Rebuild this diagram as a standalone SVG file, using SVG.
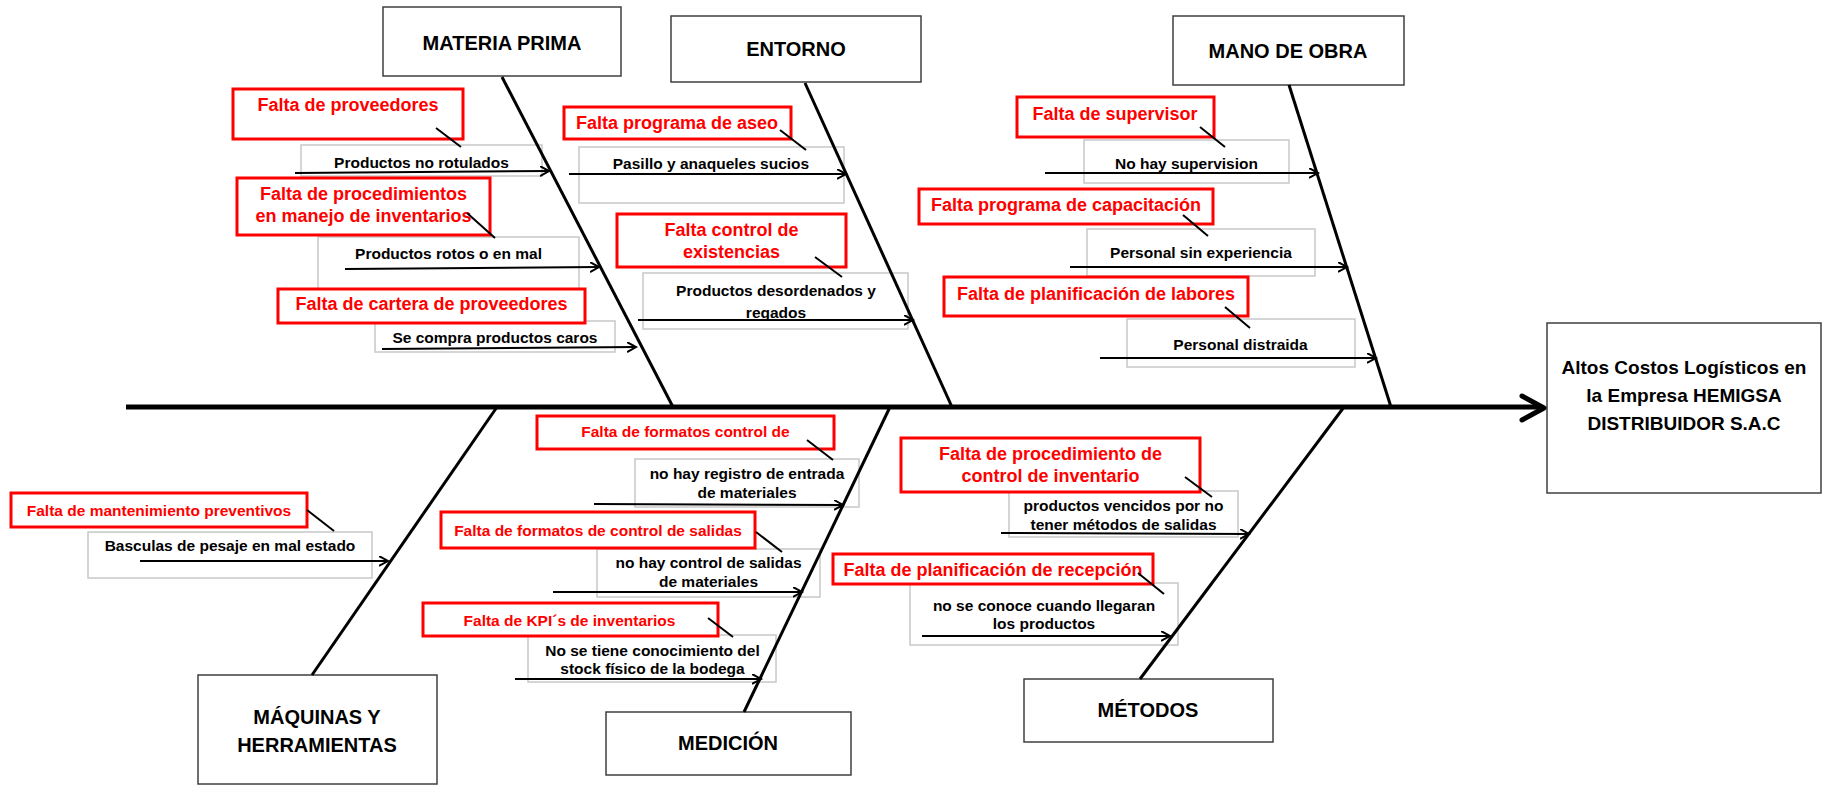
<svg xmlns="http://www.w3.org/2000/svg" width="1828" height="785" viewBox="0 0 1828 785">
<style>
text{font-family:"Liberation Sans",Arial,sans-serif;font-weight:bold;text-anchor:middle}
.cat{fill:#fff;stroke:#3f3f3f;stroke-width:1.5}
.cat-t{font-size:20px;fill:#000}
.eff-t{font-size:19px;fill:#000}
.sub{fill:#fff;stroke:#c8c8c8;stroke-width:1.5}
.sub-t{font-size:15.5px;fill:#000}
.red{fill:#fff;stroke:#ff0000;stroke-width:3}
.red-t{font-size:18px;fill:#ff0000}
.red-s{font-size:15.5px;fill:#ff0000}
.bone{stroke:#000;stroke-width:3;fill:none}
.arr{stroke:#000;stroke-width:2;fill:none;marker-end:url(#ah)}
.lnk{stroke:#000;stroke-width:2;fill:none}
</style>
<defs>
<marker id="ah" markerUnits="userSpaceOnUse" markerWidth="12" markerHeight="12" refX="9" refY="5" orient="auto">
<path d="M0,0 L9,5 L0,10" fill="none" stroke="#000" stroke-width="2"/>
</marker>
</defs>
<rect width="1828" height="785" fill="#fff"/>

<!-- Effect -->
<g id="effect">
<rect class="cat" x="1547" y="323" width="274" height="170"/>
<text class="eff-t" x="1684" y="374">Altos Costos Logísticos en</text>
<text class="eff-t" x="1684" y="402">la Empresa HEMIGSA</text>
<text class="eff-t" x="1684" y="430">DISTRIBUIDOR S.A.C</text>
</g>

<!-- Categories -->
<g id="cat-materia-prima">
<rect class="cat" x="383" y="7" width="238" height="69"/>
<text class="cat-t" x="502" y="50">MATERIA PRIMA</text>
</g>
<g id="cat-entorno">
<rect class="cat" x="671" y="16" width="250" height="66"/>
<text class="cat-t" x="796" y="56">ENTORNO</text>
</g>
<g id="cat-mano-de-obra">
<rect class="cat" x="1173" y="16" width="231" height="69"/>
<text class="cat-t" x="1288" y="58">MANO DE OBRA</text>
</g>
<g id="cat-maquinas">
<rect class="cat" x="198" y="675" width="239" height="109"/>
<text class="cat-t" x="317" y="724">MÁQUINAS Y</text>
<text class="cat-t" x="317" y="752">HERRAMIENTAS</text>
</g>
<g id="cat-medicion">
<rect class="cat" x="606" y="712" width="245" height="63"/>
<text class="cat-t" x="728" y="750">MEDICIÓN</text>
</g>
<g id="cat-metodos">
<rect class="cat" x="1024" y="679" width="249" height="63"/>
<text class="cat-t" x="1148" y="717">MÉTODOS</text>
</g>

<!-- MATERIA PRIMA sub-causes -->
<g id="mp-1">
<rect class="sub" x="301" y="145" width="241" height="31"/>
<text class="sub-t" x="421.5" y="167.5">Productos no rotulados</text>
<rect class="red" x="233" y="89" width="230" height="50"/>
<text class="red-t" x="348" y="110.5">Falta de proveedores</text>
</g>
<g id="mp-2">
<rect class="sub" x="318" y="237" width="261" height="53"/>
<text class="sub-t" x="448.5" y="258.5">Productos rotos o en mal</text>
<rect class="red" x="237" y="178" width="253" height="57"/>
<text class="red-t" x="363.5" y="199.5">Falta de procedimientos</text>
<text class="red-t" x="363.5" y="221.5">en manejo de inventarios</text>
</g>
<g id="mp-3">
<rect class="sub" x="375" y="321" width="240" height="31"/>
<text class="sub-t" x="495" y="342.5">Se compra productos caros</text>
<rect class="red" x="278" y="289" width="307" height="34"/>
<text class="red-t" x="431.5" y="309.5">Falta de cartera de proveedores</text>
</g>

<!-- ENTORNO sub-causes -->
<g id="en-1">
<rect class="sub" x="579" y="147" width="265" height="56"/>
<text class="sub-t" x="711" y="168.5">Pasillo y anaqueles sucios</text>
<rect class="red" x="564" y="107" width="227" height="32"/>
<text class="red-t" x="677" y="128.5">Falta programa de aseo</text>
</g>
<g id="en-2">
<rect class="sub" x="643" y="273" width="265" height="56"/>
<text class="sub-t" x="776" y="295.5">Productos desordenados y</text>
<text class="sub-t" x="776" y="317.5">regados</text>
<rect class="red" x="617" y="214" width="229" height="53"/>
<text class="red-t" x="731.5" y="235.5">Falta control de</text>
<text class="red-t" x="731.5" y="257.5">existencias</text>
</g>

<!-- MANO DE OBRA sub-causes -->
<g id="mo-1">
<rect class="sub" x="1084" y="140" width="205" height="43"/>
<text class="sub-t" x="1186.5" y="168.5">No hay supervision</text>
<rect class="red" x="1017" y="97" width="197" height="40"/>
<text class="red-t" x="1115" y="119.5">Falta de supervisor</text>
</g>
<g id="mo-2">
<rect class="sub" x="1087" y="229" width="228" height="47"/>
<text class="sub-t" x="1201" y="257.5">Personal sin experiencia</text>
<rect class="red" x="919" y="189" width="294" height="35"/>
<text class="red-t" x="1066" y="210.5">Falta programa de capacitación</text>
</g>
<g id="mo-3">
<rect class="sub" x="1127" y="319" width="228" height="48"/>
<text class="sub-t" x="1240.5" y="349.5">Personal distraida</text>
<rect class="red" x="944" y="277" width="304" height="39"/>
<text class="red-t" x="1096" y="299.5">Falta de planificación de labores</text>
</g>

<!-- MAQUINAS sub-causes -->
<g id="mq-1">
<rect class="sub" x="88" y="532" width="284" height="46"/>
<text class="sub-t" x="230" y="550.5">Basculas de pesaje en mal estado</text>
<rect class="red" x="11" y="493" width="296" height="34"/>
<text class="red-s" x="159" y="515.5">Falta de mantenimiento preventivos</text>
</g>

<!-- MEDICION sub-causes -->
<g id="me-1">
<rect class="sub" x="635" y="459" width="224" height="48"/>
<text class="sub-t" x="747" y="478.5">no hay registro de entrada</text>
<text class="sub-t" x="747" y="497.5">de materiales</text>
<rect class="red" x="537" y="416" width="297" height="33"/>
<text class="red-s" x="685.5" y="437">Falta de formatos control de</text>
</g>
<g id="me-2">
<rect class="sub" x="597" y="549" width="223" height="48"/>
<text class="sub-t" x="708.5" y="568">no hay control de salidas</text>
<text class="sub-t" x="708.5" y="587">de materiales</text>
<rect class="red" x="441" y="512" width="314" height="36"/>
<text class="red-s" x="598" y="535.5">Falta de formatos de control de salidas</text>
</g>
<g id="me-3">
<rect class="sub" x="528" y="635" width="248" height="47"/>
<text class="sub-t" x="652.5" y="655.5">No se tiene conocimiento del</text>
<text class="sub-t" x="652.5" y="674">stock físico de la bodega</text>
<rect class="red" x="423" y="603" width="295" height="33"/>
<text class="red-s" x="569.5" y="625.5">Falta de KPI´s de inventarios</text>
</g>

<!-- METODOS sub-causes -->
<g id="mt-1">
<rect class="sub" x="1009" y="491" width="229" height="46"/>
<text class="sub-t" x="1123.5" y="510.5">productos vencidos por no</text>
<text class="sub-t" x="1123.5" y="529.5">tener métodos de salidas</text>
<rect class="red" x="901" y="438" width="299" height="54"/>
<text class="red-t" x="1050.5" y="459.5">Falta de procedimiento de</text>
<text class="red-t" x="1050.5" y="481.5">control de inventario</text>
</g>
<g id="mt-2">
<rect class="sub" x="910" y="583" width="268" height="62"/>
<text class="sub-t" x="1044" y="611">no se conoce cuando llegaran</text>
<text class="sub-t" x="1044" y="628.5">los productos</text>
<rect class="red" x="833" y="554" width="320" height="30"/>
<text class="red-t" x="993" y="575.5">Falta de planificación de recepción</text>
</g>

<!-- Connectors -->
<g id="connectors">
<line x1="126" y1="407" x2="1540" y2="407" stroke="#000" stroke-width="5"/>
<polyline points="1522,396 1544,408 1522,420" fill="none" stroke="#000" stroke-width="5" stroke-linecap="round" stroke-linejoin="round"/>

<line class="bone" x1="502" y1="77" x2="673" y2="407"/>
<line class="bone" x1="805" y1="83" x2="952" y2="407"/>
<line class="bone" x1="1289" y1="85" x2="1391" y2="407"/>
<line class="bone" x1="497" y1="407" x2="312" y2="675"/>
<line class="bone" x1="890" y1="407" x2="744" y2="712"/>
<line class="bone" x1="1344" y1="407" x2="1140" y2="679"/>

<line class="arr" x1="295" y1="173" x2="549" y2="171"/>
<line class="arr" x1="345" y1="269" x2="599" y2="267"/>
<line class="arr" x1="382" y1="349" x2="636" y2="347"/>
<line class="arr" x1="569" y1="174" x2="846" y2="174"/>
<line class="arr" x1="638" y1="320" x2="913" y2="320"/>
<line class="arr" x1="1045" y1="173" x2="1318" y2="173"/>
<line class="arr" x1="1070" y1="267" x2="1347" y2="267"/>
<line class="arr" x1="1100" y1="358" x2="1376" y2="358"/>
<line class="arr" x1="140" y1="561" x2="388" y2="561"/>
<line class="arr" x1="594" y1="504" x2="843" y2="505"/>
<line class="arr" x1="553" y1="592" x2="802" y2="592"/>
<line class="arr" x1="515" y1="679" x2="761" y2="679"/>
<line class="arr" x1="1001" y1="533" x2="1249" y2="534"/>
<line class="arr" x1="922" y1="636" x2="1170" y2="636"/>

<line class="lnk" x1="436" y1="128" x2="461" y2="147"/>
<line class="lnk" x1="467" y1="213" x2="495" y2="238"/>
<line class="lnk" x1="780" y1="130" x2="806" y2="150"/>
<line class="lnk" x1="815" y1="257" x2="842" y2="277"/>
<line class="lnk" x1="1200" y1="127" x2="1225" y2="147"/>
<line class="lnk" x1="1183" y1="215" x2="1208" y2="236"/>
<line class="lnk" x1="1225" y1="307" x2="1250" y2="328"/>
<line class="lnk" x1="307" y1="510" x2="334" y2="531"/>
<line class="lnk" x1="807" y1="440" x2="833" y2="460"/>
<line class="lnk" x1="756" y1="532" x2="782" y2="552"/>
<line class="lnk" x1="708" y1="618" x2="733" y2="637"/>
<line class="lnk" x1="1185" y1="477" x2="1212" y2="497"/>
<line class="lnk" x1="1138" y1="573" x2="1164" y2="594"/>
</g>
</svg>
